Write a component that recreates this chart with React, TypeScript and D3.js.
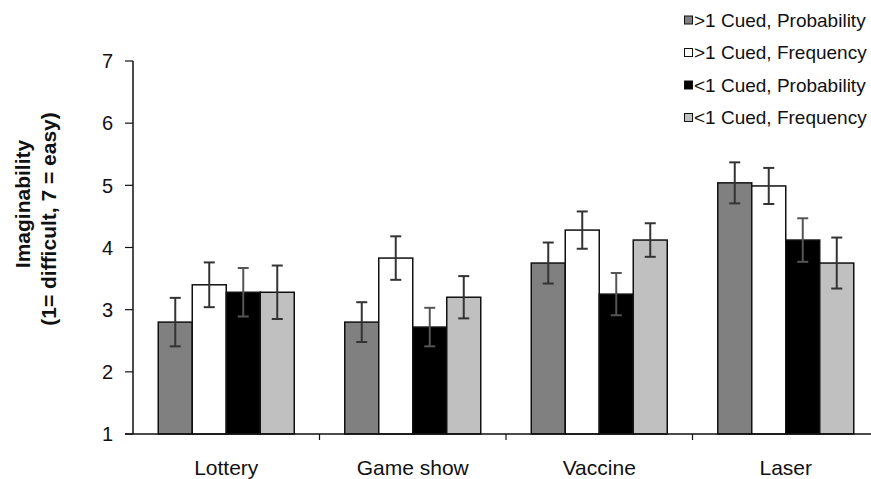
import React from "react";
import * as d3 from "d3";

const categories = ["Lottery", "Game show", "Vaccine", "Laser"];
const seriesNames = [
  ">1 Cued, Probability",
  ">1 Cued, Frequency",
  "<1 Cued, Probability",
  "<1 Cued, Frequency",
];
const seriesColors = ["#808080", "#ffffff", "#000000", "#c0c0c0"];
// values per series, one per category
const cued1Prob = [2.8, 2.8, 3.75, 5.04];
const cued1Freq = [3.4, 3.83, 4.28, 4.99];
const cued0Prob = [3.28, 2.72, 3.25, 4.12];
const cued0Freq = [3.28, 3.2, 4.12, 3.75];
const err1Prob = [0.39, 0.32, 0.33, 0.33];
const err1Freq = [0.36, 0.35, 0.3, 0.29];
const err0Prob = [0.39, 0.31, 0.34, 0.35];
const err0Freq = [0.43, 0.34, 0.27, 0.41];
const yTicks = [1, 2, 3, 4, 5, 6, 7];

const values = [cued1Prob, cued1Freq, cued0Prob, cued0Freq];
const errors = [err1Prob, err1Freq, err0Prob, err0Freq];

export default function App() {
  const W = 871;
  const H = 479;
  const axisX = 133;
  const axisY = 434;
  const y = d3.scaleLinear().domain([1, 7]).range([434, 61]);
  const x0 = d3.scaleBand<string>().domain(categories).range([133, 879]).padding(0);
  const step = x0.step();
  const groupW = 136;
  const x1 = d3
    .scaleBand<string>()
    .domain(seriesNames)
    .range([(step - groupW) / 2, (step + groupW) / 2])
    .padding(0);
  const bw = x1.bandwidth();
  const font = "Arial, 'Liberation Sans', sans-serif";

  return (
    <svg width={W} height={H} style={{ position: "absolute", left: 0, top: 0, background: "#fff" }} fontFamily={font}>
      <rect x={0} y={0} width={W} height={H} fill="#fff" />
      {/* bars */}
      {categories.map((c, ci) =>
        seriesNames.map((s, si) => {
          const v = values[si][ci];
          const bx = (x0(c) as number) + (x1(s) as number);
          return (
            <rect
              key={c + s}
              x={bx}
              y={y(v)}
              width={bw}
              height={y(1) - y(v)}
              fill={seriesColors[si]}
              stroke="#111"
              strokeWidth={1.5}
            />
          );
        })
      )}
      {/* error bars */}
      {categories.map((c, ci) =>
        seriesNames.map((s, si) => {
          const v = values[si][ci];
          const e = errors[si][ci];
          const cx = (x0(c) as number) + (x1(s) as number) + bw / 2;
          const col = si === 2 ? "#555" : "#333";
          return (
            <g key={"e" + c + s} stroke={col} strokeWidth={2}>
              <line x1={cx} x2={cx} y1={y(v + e)} y2={y(v - e)} />
              <line x1={cx - 5.5} x2={cx + 5.5} y1={y(v + e)} y2={y(v + e)} />
              <line x1={cx - 5.5} x2={cx + 5.5} y1={y(v - e)} y2={y(v - e)} />
            </g>
          );
        })
      )}
      {/* y axis */}
      <line x1={axisX} x2={axisX} y1={y(7)} y2={axisY} stroke="#111" strokeWidth={1.5} />
      {yTicks.map((t) => (
        <g key={t}>
          <line x1={axisX - 8} x2={axisX} y1={y(t)} y2={y(t)} stroke="#111" strokeWidth={1.2} />
          <text x={113} y={y(t)} dy="0.36em" textAnchor="end" fontSize={20} fill="#111">
            {t}
          </text>
        </g>
      ))}
      {/* x axis */}
      <line x1={axisX - 8} x2={W} y1={axisY} y2={axisY} stroke="#111" strokeWidth={1.5} />
      {categories.slice(1).map((c) => (
        <line key={"t" + c} x1={x0(c) as number} x2={x0(c) as number} y1={axisY} y2={axisY + 6} stroke="#111" strokeWidth={1.2} />
      ))}
      {categories.map((c) => (
        <text key={"l" + c} x={(x0(c) as number) + step / 2} y={475} textAnchor="middle" fontSize={21} fill="#111">
          {c}
        </text>
      ))}
      {/* y label */}
      <text transform="translate(30,204) rotate(-90)" textAnchor="middle" fontSize={21} fontWeight="bold" fill="#111">
        Imaginability
      </text>
      <text transform="translate(56,219) rotate(-90)" textAnchor="middle" fontSize={21} fontWeight="bold" fill="#111">
        (1= difficult, 7 = easy)
      </text>
      {/* legend */}
      {seriesNames.map((s, i) => {
        const cy = 20 + i * 32.5;
        return (
          <g key={"lg" + s}>
            <rect x={684.5} y={cy - 4} width={8} height={8} fill={seriesColors[i]} stroke="#111" strokeWidth={1} />
            <text x={694} y={cy} dy="0.36em" fontSize={19} fill="#111">
              {s}
            </text>
          </g>
        );
      })}
    </svg>
  );
}
